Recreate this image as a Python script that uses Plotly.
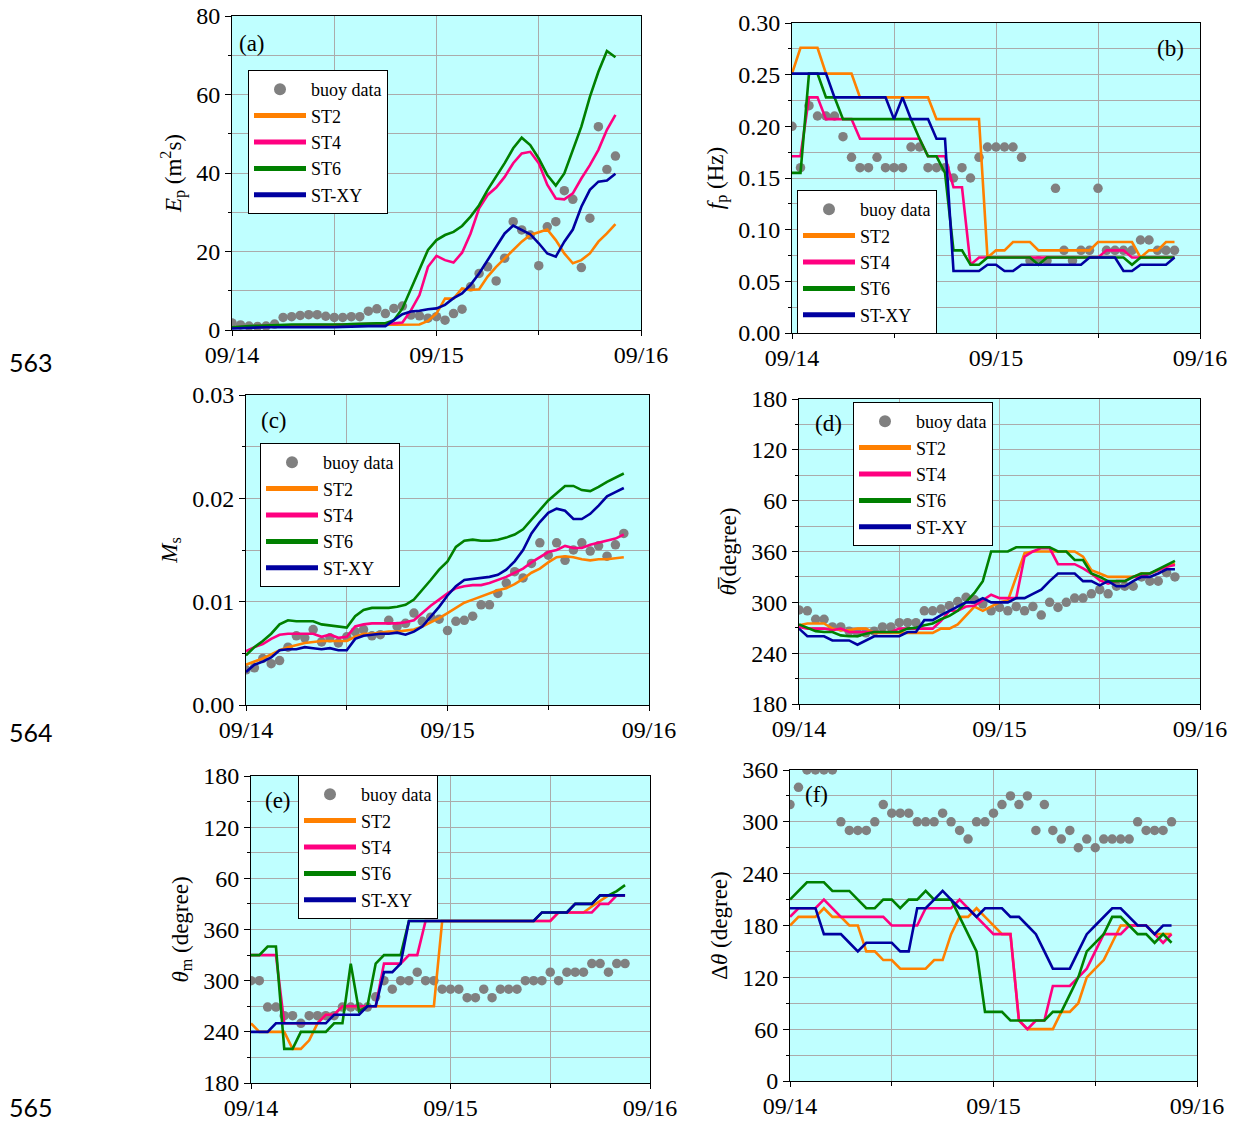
import plotly.graph_objects as go

# ---------------------------------------------------------------------------
# Time axis: hourly output, hours since 09/14 00:00
# ---------------------------------------------------------------------------
HOURS = list(range(46))
DAY_TICKS = [0, 24, 48]
DAY_LABELS = ["09/14", "09/15", "09/16"]

# (a) peak energy E_p (m^2 s)
EP_BUOY = [1.8, 1.3, 1.0, 0.9, 1.0, 1.5, 3.2, 3.4, 3.7, 3.9, 3.9, 3.5, 3.2, 3.2, 3.4, 3.4,
           4.8, 5.4, 4.2, 5.5, 6.1, 3.8, 3.6, 3.0, 3.4, 2.5, 4.2, 5.3, 11.0, 14.4, 16.1, 12.5,
           18.3, 27.6, 25.5, 24.2, 16.4, 26.3, 27.6, 35.5, 33.3, 15.9, 28.5, 51.8, 40.9, 44.3]
EP_ST2 = [0.6, 0.7, 0.8, 0.8, 0.9, 0.9, 1.0, 1.0, 1.0, 1.0, 1.0, 1.0, 1.1, 1.2, 1.3, 1.3,
          1.3, 1.3, 1.3, 1.3, 1.3, 1.3, 1.4, 2.3, 4.2, 8.0, 8.0, 10.6, 10.2, 10.4, 13.6, 16.1,
          18.3, 20.4, 22.5, 24.2, 24.9, 25.6, 22.9, 19.5, 17.0, 17.8, 19.5, 22.5, 24.6, 27.0]
EP_ST4 = [0.6, 0.8, 0.9, 1.0, 1.1, 1.1, 1.2, 1.2, 1.2, 1.2, 1.2, 1.2, 1.3, 1.4, 1.5, 1.6,
          1.6, 1.6, 1.6, 1.7, 1.9, 5.0, 8.9, 16.1, 18.9, 17.8, 17.2, 19.7, 24.6, 31.0, 34.4, 36.3,
          39.0, 42.5, 45.0, 45.4, 42.5, 37.0, 33.5, 33.3, 34.8, 38.6, 42.0, 45.9, 51.0, 54.8]
EP_ST6 = [0.7, 0.9, 1.0, 1.1, 1.2, 1.3, 1.4, 1.4, 1.4, 1.4, 1.4, 1.3, 1.3, 1.4, 1.5, 1.6,
          1.7, 1.7, 1.7, 2.5, 5.5, 10.6, 15.3, 20.4, 22.9, 24.2, 25.0, 26.5, 28.9, 31.8, 35.7, 39.0,
          42.5, 46.3, 49.0, 47.1, 43.7, 39.5, 36.8, 39.9, 45.9, 51.8, 59.4, 65.8, 71.1, 69.5]
EP_STXY = [0.4, 0.5, 0.6, 0.6, 0.7, 0.7, 0.7, 0.7, 0.7, 0.7, 0.6, 0.6, 0.7, 0.8, 0.9, 0.9,
           1.0, 1.0, 1.0, 2.5, 4.0, 4.7, 4.9, 5.3, 5.5, 6.4, 8.1, 9.3, 11.5, 14.4, 17.8, 21.4,
           24.6, 26.6, 25.5, 24.4, 22.1, 19.5, 18.7, 22.5, 25.6, 31.4, 35.7, 37.8, 38.1, 39.8]

# (b) peak frequency f_p (Hz)
FP_BUOY = [0.20, 0.16, 0.22, 0.21, 0.21, 0.21, 0.19, 0.17, 0.16, 0.16, 0.17, 0.16, 0.16, 0.16,
           0.18, 0.18, 0.16, 0.16, 0.16, 0.15, 0.16, 0.15, 0.17, 0.18, 0.18, 0.18, 0.18, 0.17,
           0.07, 0.07, 0.07, 0.14, 0.08, 0.07, 0.08, 0.08, 0.14, 0.08, 0.08, 0.08, 0.08, 0.09,
           0.09, 0.08, 0.08, 0.08]
FP_ST2 = [0.251, 0.276, 0.276, 0.276, 0.251, 0.251, 0.251, 0.251, 0.228, 0.228, 0.228, 0.228,
          0.228, 0.228, 0.228, 0.228, 0.228, 0.207, 0.207, 0.207, 0.207, 0.207, 0.207, 0.073,
          0.080, 0.080, 0.088, 0.088, 0.088, 0.080, 0.080, 0.080, 0.080, 0.080, 0.080, 0.080,
          0.088, 0.088, 0.088, 0.088, 0.088, 0.073, 0.080, 0.080, 0.088, 0.088]
FP_ST4 = [0.171, 0.171, 0.228, 0.228, 0.207, 0.207, 0.207, 0.207, 0.188, 0.188, 0.188, 0.188,
          0.188, 0.188, 0.188, 0.188, 0.171, 0.171, 0.171, 0.141, 0.141, 0.066, 0.073, 0.073,
          0.073, 0.073, 0.073, 0.073, 0.073, 0.073, 0.073, 0.073, 0.073, 0.073, 0.073, 0.073,
          0.073, 0.080, 0.080, 0.080, 0.073, 0.073, 0.073, 0.073, 0.073, 0.073]
FP_ST6 = [0.155, 0.155, 0.251, 0.251, 0.228, 0.228, 0.207, 0.207, 0.207, 0.207, 0.207, 0.207,
          0.207, 0.207, 0.207, 0.188, 0.171, 0.171, 0.155, 0.080, 0.080, 0.066, 0.066, 0.073,
          0.073, 0.073, 0.073, 0.073, 0.073, 0.066, 0.073, 0.073, 0.073, 0.073, 0.073, 0.073,
          0.073, 0.073, 0.073, 0.073, 0.066, 0.073, 0.073, 0.073, 0.073, 0.073]
FP_STXY = [0.251, 0.251, 0.251, 0.251, 0.251, 0.228, 0.228, 0.228, 0.228, 0.228, 0.228, 0.228,
           0.207, 0.228, 0.207, 0.207, 0.207, 0.188, 0.188, 0.060, 0.060, 0.060, 0.060, 0.066,
           0.066, 0.060, 0.060, 0.066, 0.066, 0.066, 0.066, 0.066, 0.066, 0.066, 0.066, 0.073,
           0.073, 0.073, 0.073, 0.060, 0.060, 0.066, 0.066, 0.066, 0.066, 0.073]

# (c) wave steepness M_s
MS_BUOY = [0.0034, 0.0036, 0.0045, 0.0040, 0.0043, 0.0056, 0.0067, 0.0065, 0.0073, 0.0061,
           0.0065, 0.0060, 0.0066, 0.0071, 0.0073, 0.0067, 0.0068, 0.0082, 0.0076, 0.0079,
           0.0089, 0.0081, 0.0085, 0.0083, 0.0072, 0.0081, 0.0082, 0.0086, 0.0097, 0.0097,
           0.0108, 0.0118, 0.0129, 0.0123, 0.0137, 0.0157, 0.0145, 0.0157, 0.0140, 0.0150,
           0.0157, 0.0149, 0.0154, 0.0144, 0.0155, 0.0166]
MS_ST2 = [0.0039, 0.0042, 0.0045, 0.0049, 0.0053, 0.0056, 0.0058, 0.0060, 0.0061, 0.0062,
          0.0062, 0.0062, 0.0062, 0.0066, 0.0069, 0.0069, 0.0070, 0.0071, 0.0071, 0.0072,
          0.0073, 0.0076, 0.0080, 0.0084, 0.0089, 0.0094, 0.0099, 0.0102, 0.0105, 0.0108,
          0.0111, 0.0113, 0.0117, 0.0122, 0.0128, 0.0132, 0.0138, 0.0143, 0.0144, 0.0143,
          0.0141, 0.0140, 0.0141, 0.0141, 0.0142, 0.0143]
MS_ST4 = [0.0052, 0.0056, 0.0059, 0.0064, 0.0068, 0.0069, 0.0069, 0.0069, 0.0069, 0.0066,
          0.0068, 0.0065, 0.0066, 0.0076, 0.0078, 0.0079, 0.0079, 0.0079, 0.0079, 0.0080,
          0.0082, 0.0089, 0.0096, 0.0102, 0.0108, 0.0113, 0.0115, 0.0116, 0.0116, 0.0118,
          0.0121, 0.0124, 0.0128, 0.0132, 0.0138, 0.0143, 0.0148, 0.0150, 0.0154, 0.0152,
          0.0152, 0.0155, 0.0157, 0.0159, 0.0161, 0.0165]
MS_ST6 = [0.0048, 0.0056, 0.0062, 0.0069, 0.0078, 0.0082, 0.0081, 0.0081, 0.0081, 0.0078,
          0.0077, 0.0076, 0.0075, 0.0086, 0.0092, 0.0094, 0.0094, 0.0094, 0.0095, 0.0097,
          0.0102, 0.0111, 0.0121, 0.0131, 0.0139, 0.0153, 0.0159, 0.0160, 0.0159, 0.0159,
          0.0160, 0.0162, 0.0165, 0.0170, 0.0179, 0.0188, 0.0198, 0.0205, 0.0212, 0.0212,
          0.0208, 0.0207, 0.0211, 0.0216, 0.0220, 0.0224]
MS_STXY = [0.0032, 0.0039, 0.0042, 0.0046, 0.0053, 0.0054, 0.0054, 0.0056, 0.0055, 0.0054,
           0.0055, 0.0053, 0.0053, 0.0064, 0.0067, 0.0068, 0.0069, 0.0069, 0.0070, 0.0068,
           0.0071, 0.0076, 0.0085, 0.0095, 0.0106, 0.0115, 0.0121, 0.0122, 0.0123, 0.0124,
           0.0126, 0.0131, 0.0139, 0.0150, 0.0166, 0.0177, 0.0186, 0.0190, 0.0188, 0.0180,
           0.0180, 0.0185, 0.0193, 0.0202, 0.0206, 0.0210]

# (d) mean wave direction (deg, unwrapped past 360)
MD_BUOY = [291, 290, 280, 280, 271, 271, 266, 264, 264, 266, 271, 271, 276, 276, 276, 290,
           290, 292, 296, 301, 306, 303, 298, 290, 294, 290, 295, 290, 295, 285, 300, 294,
           300, 305, 305, 310, 315, 310, 319, 319, 319, 330, 325, 325, 335, 330]
MD_ST2 = [273, 275, 275, 275, 269, 267, 267, 269, 269, 264, 264, 264, 264, 264, 264, 264,
          264, 269, 269, 274, 285, 295, 290, 295, 300, 302, 330, 358, 360, 360, 360, 360,
          360, 360, 354, 338, 334, 330, 330, 330, 330, 334, 334, 338, 342, 346]
MD_ST4 = [271, 269, 269, 269, 267, 269, 265, 265, 265, 265, 265, 265, 269, 269, 269, 269,
          269, 278, 290, 290, 295, 296, 303, 309, 305, 305, 305, 354, 360, 364, 364, 345,
          345, 345, 340, 334, 326, 322, 325, 325, 330, 330, 334, 338, 342, 344]
MD_ST6 = [274, 270, 266, 265, 265, 261, 260, 260, 263, 265, 265, 265, 265, 269, 270, 273,
          275, 280, 284, 290, 300, 311, 325, 360, 360, 360, 365, 365, 365, 365, 365, 360,
          360, 350, 350, 334, 330, 325, 325, 325, 330, 334, 334, 339, 344, 349]
MD_STXY = [269, 260, 260, 260, 255, 255, 255, 250, 255, 260, 260, 260, 260, 265, 265, 279,
           279, 285, 290, 295, 300, 300, 305, 300, 300, 300, 305, 305, 310, 315, 325, 334,
           334, 334, 325, 325, 320, 325, 319, 319, 325, 330, 330, 334, 339, 339]

# (e) peak wave direction (deg, unwrapped past 360)
PD_BUOY = [300, 300, 269, 269, 259, 259, 250, 259, 259, 259, 259, 269, 269, 269, 269, 281,
           300, 290, 300, 300, 310, 300, 300, 290, 290, 290, 280, 280, 290, 280, 290, 290,
           290, 300, 300, 300, 310, 300, 310, 310, 310, 320, 320, 310, 320, 320]
PD_ST2 = [250, 240, 240, 240, 240, 220, 220, 230, 250, 260, 260, 270, 270, 270, 270, 270,
          270, 270, 270, 270, 270, 270, 270, 370, 370, 370, 370, 370, 370, 370, 370, 370,
          370, 370, 370, 370, 370, 380, 380, 380, 380, 387, 393, 400, 400, 400]
PD_ST4 = [330, 330, 330, 330, 250, 250, 250, 250, 250, 260, 260, 270, 270, 270, 270, 270,
          320, 320, 320, 330, 330, 370, 370, 370, 370, 370, 370, 370, 370, 370, 370, 370,
          370, 370, 370, 370, 370, 380, 380, 380, 380, 380, 390, 390, 400, 400]
PD_ST6 = [330, 330, 340, 340, 220, 220, 240, 240, 240, 240, 250, 250, 320, 264, 270, 320,
          330, 330, 330, 370, 370, 370, 370, 370, 370, 370, 370, 370, 370, 370, 370, 370,
          370, 370, 370, 380, 380, 380, 380, 390, 390, 390, 400, 400, 405, 412]
PD_STXY = [240, 240, 240, 250, 250, 250, 250, 250, 250, 250, 260, 260, 260, 260, 270, 270,
           310, 310, 320, 370, 370, 370, 370, 370, 370, 370, 370, 370, 370, 370, 370, 370,
           370, 370, 370, 380, 380, 380, 380, 390, 390, 390, 400, 400, 400, 400]

# (f) directional spreading (deg)
DS_BUOY = [320, 340, 360, 360, 360, 360, 300, 290, 290, 290, 300, 320, 310, 310, 310, 300,
           300, 300, 310, 300, 290, 280, 300, 300, 310, 320, 330, 320, 330, 290, 320, 290,
           280, 290, 270, 280, 270, 280, 280, 280, 280, 300, 290, 290, 290, 300]
DS_ST2 = [180, 190, 190, 190, 200, 190, 190, 180, 180, 150, 150, 140, 140, 130, 130, 130,
          130, 140, 140, 170, 190, 190, 200, 190, 180, 170, 170, 70, 60, 60, 60, 60,
          80, 80, 90, 120, 130, 140, 160, 180, 180, 180, 180, 170, 170, 170]
DS_ST4 = [190, 200, 200, 200, 210, 200, 190, 190, 190, 190, 190, 190, 180, 180, 180, 180,
          200, 200, 200, 200, 210, 200, 190, 180, 170, 170, 170, 70, 60, 70, 70, 110,
          110, 110, 120, 130, 150, 170, 170, 170, 180, 180, 180, 170, 160, 170]
DS_ST6 = [210, 220, 230, 230, 230, 220, 220, 220, 210, 200, 200, 210, 210, 200, 210, 210,
          220, 210, 210, 210, 190, 170, 150, 80, 80, 80, 70, 70, 70, 70, 70, 80,
          80, 100, 120, 150, 160, 170, 190, 190, 180, 170, 170, 160, 170, 160]
DS_STXY = [200, 200, 200, 200, 170, 170, 170, 160, 150, 160, 160, 160, 160, 150, 150, 200,
           200, 210, 220, 210, 200, 200, 190, 200, 200, 200, 190, 190, 180, 170, 150, 130,
           130, 130, 150, 170, 180, 190, 200, 200, 190, 180, 180, 170, 180, 180]

MODEL_NAMES = ["ST2", "ST4", "ST6", "ST-XY"]
MODEL_COLORS = ["#FF8000", "#FF0080", "#008000", "#0000A0"]
BUOY_COLOR = "#808080"

DIR_TICKS = [180, 240, 300, 360, 420, 480, 540]
DIR_LABELS = ["180", "240", "300", "360", "60", "120", "180"]

SERIF = "Liberation Serif, Times New Roman, serif"
W, H = 1234, 1122
PLOT_BG = "#BFFFFF"
GRID = "#ABABAB"
TICK_SIZE = 24

# panel boxes in pixels: left, top, right, bottom; legend: left edge, vertical centre
panels = [
    dict(tag="(a)", box=(232, 16, 641, 330), buoy=EP_BUOY,
         models=[EP_ST2, EP_ST4, EP_ST6, EP_STXY],
         yrange=[0, 80], ytick=dict(tick0=0, dtick=20), yminor=10, yfmt="",
         title="<i>E</i><sub>p</sub> (m<sup>2</sup>s)",
         label=dict(x=0.013, y=0.913, xanchor="left"), legend=(248, 142)),
    dict(tag="(b)", box=(792, 23, 1200, 333), buoy=FP_BUOY,
         models=[FP_ST2, FP_ST4, FP_ST6, FP_STXY],
         yrange=[0, 0.30], ytick=dict(tick0=0, dtick=0.05), yminor=0.025, yfmt=".2f",
         title="<i>f</i><sub>p</sub> (Hz)",
         label=dict(x=0.965, y=0.919, xanchor="right"), legend=(797, 262)),
    dict(tag="(c)", box=(246, 395, 649, 705), buoy=MS_BUOY,
         models=[MS_ST2, MS_ST4, MS_ST6, MS_STXY],
         yrange=[0, 0.03], ytick=dict(tick0=0, dtick=0.01), yminor=0.005, yfmt=".2f",
         title="<i>M</i><sub>s</sub>",
         label=dict(x=0.032, y=0.917, xanchor="left"), legend=(260, 515)),
    dict(tag="(d)", box=(799, 399, 1200, 704), buoy=MD_BUOY,
         models=[MD_ST2, MD_ST4, MD_ST6, MD_STXY],
         yrange=[180, 540], ytick=dict(tickvals=DIR_TICKS, ticktext=DIR_LABELS), yminor=30,
         yfmt="", title="<i>\u03b8\u0305</i>(degree)",
         label=dict(x=0.034, y=0.921, xanchor="left"), legend=(853, 474)),
    dict(tag="(e)", box=(251, 776, 650, 1083), buoy=PD_BUOY,
         models=[PD_ST2, PD_ST4, PD_ST6, PD_STXY],
         yrange=[180, 540], ytick=dict(tickvals=DIR_TICKS, ticktext=DIR_LABELS), yminor=30,
         yfmt="", title="<i>\u03b8</i><sub>m</sub> (degree)",
         label=dict(x=0.030, y=0.921, xanchor="left"), legend=(298, 847)),
    dict(tag="(f)", box=(790, 770, 1197, 1081), buoy=DS_BUOY,
         models=[DS_ST2, DS_ST4, DS_ST6, DS_STXY],
         yrange=[0, 360], ytick=dict(tick0=0, dtick=60), yminor=30, yfmt="",
         title="\u0394<i>\u03b8</i> (degree)",
         label=dict(x=0.032, y=0.922, xanchor="left"), legend=None),
]

fig = go.Figure()
layout = dict(
    width=W, height=H,
    margin=dict(l=0, r=0, t=0, b=0, pad=0, autoexpand=False),
    paper_bgcolor="white", plot_bgcolor=PLOT_BG,
    font=dict(family=SERIF, size=23, color="black"),
    annotations=[], showlegend=True,
)

for i, p in enumerate(panels):
    n = i + 1
    sfx = "" if n == 1 else str(n)
    xa, ya = "x" + sfx, "y" + sfx
    legend_id = None
    if p["legend"] is not None:
        legend_id = "legend" + sfx

    l, t, r, b = p["box"]

    # buoy observations
    fig.add_trace(go.Scatter(
        x=HOURS, y=p["buoy"], mode="markers", name="buoy data",
        marker=dict(color=BUOY_COLOR, size=9.5),
        xaxis=xa, yaxis=ya, showlegend=legend_id is not None,
        legend=legend_id or "legend",
    ))
    # model runs
    for name, color, vals in zip(MODEL_NAMES, MODEL_COLORS, p["models"]):
        fig.add_trace(go.Scatter(
            x=HOURS, y=vals, mode="lines", name=name,
            line=dict(color=color, width=2.6),
            xaxis=xa, yaxis=ya, showlegend=legend_id is not None,
            legend=legend_id or "legend",
        ))

    layout["xaxis" + sfx] = dict(
        domain=[l / W, r / W], anchor=ya, range=[0, 48], automargin=False,
        tickmode="array", tickvals=DAY_TICKS, ticktext=DAY_LABELS,
        ticks="outside", ticklen=5, tickwidth=1, tickcolor="black",
        ticklabelstandoff=-2,
        showline=True, linecolor="black", linewidth=1, mirror=True,
        showgrid=True, gridcolor=GRID, gridwidth=1, zeroline=False,
        minor=dict(tickmode="array", tickvals=[12, 36], ticks="outside", ticklen=4,
                   tickcolor="black", showgrid=True, gridcolor=GRID, gridwidth=1),
        tickfont=dict(family=SERIF, size=TICK_SIZE, color="black"),
    )
    yax = dict(
        domain=[1 - b / H, 1 - t / H], anchor=xa, range=p["yrange"], automargin=False,
        ticks="outside", ticklen=6, tickwidth=1, tickcolor="black",
        showline=True, linecolor="black", linewidth=1, mirror=True,
        showgrid=True, gridcolor=GRID, gridwidth=1, zeroline=False,
        minor=dict(dtick=p["yminor"], ticks="outside", ticklen=3, tickcolor="black",
                   showgrid=True, gridcolor=GRID, gridwidth=1),
        tickfont=dict(family=SERIF, size=TICK_SIZE, color="black"),
        title=dict(text=p["title"], font=dict(family=SERIF, size=23, color="black"),
                   standoff=8),
    )
    if "tickvals" in p["ytick"]:
        yax.update(tickmode="array", **p["ytick"])
        yax["minor"] = dict(tickmode="array",
                            tickvals=list(range(210, 540, 60)),
                            ticks="outside", ticklen=3, tickcolor="black",
                            showgrid=True, gridcolor=GRID, gridwidth=1)
    else:
        yax.update(tickmode="linear", **p["ytick"])
    if p["yfmt"]:
        yax["tickformat"] = p["yfmt"]
    layout["yaxis" + sfx] = yax

    # panel tag
    lab = p["label"]
    layout["annotations"].append(dict(
        text=p["tag"], xref=xa + " domain", yref=ya + " domain",
        x=lab["x"], y=lab["y"], xanchor=lab["xanchor"], yanchor="middle",
        showarrow=False, font=dict(family=SERIF, size=23, color="black"),
    ))

    if legend_id is not None:
        lx, ly = p["legend"]
        layout[legend_id] = dict(
            x=lx / W, y=1 - ly / H,
            xanchor="left", yanchor="middle", xref="paper", yref="paper",
            bgcolor="white", bordercolor="black", borderwidth=1,
            font=dict(family=SERIF, size=18, color="black"),
            tracegroupgap=0, itemwidth=52, itemsizing="constant",
        )

# manuscript line numbers down the left margin
for txt, ypix in (("563", 362), ("564", 732), ("565", 1107)):
    layout["annotations"].append(dict(
        text=txt, xref="paper", yref="paper", x=7 / W, y=1 - ypix / H,
        xanchor="left", yanchor="middle", showarrow=False,
        font=dict(family="Lato, Calibri, sans-serif", size=25, color="black"),
    ))

fig.update_layout(**layout)
fig.write_html("out.html")
